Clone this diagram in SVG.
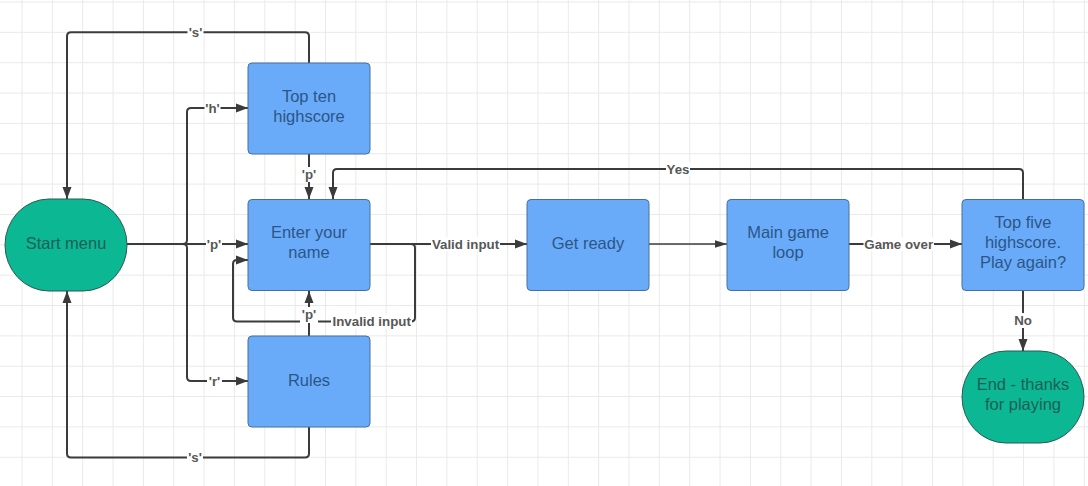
<svg xmlns="http://www.w3.org/2000/svg" width="1088" height="486" viewBox="0 0 1088 486">
<defs>
<pattern id="grid" x="21.5" y="1.5" width="30.35" height="30.35" patternUnits="userSpaceOnUse">
<path d="M0,0.5 H30.35 M0.5,0 V30.35" stroke="#e9e9e9" stroke-width="1" fill="none"/>
</pattern>
<marker id="arr" viewBox="0 0 12 10" refX="12" refY="5" markerWidth="12" markerHeight="10" markerUnits="userSpaceOnUse" orient="auto">
<path d="M0,0.5 L12,5 L0,9.5 z" fill="#3b3b3b"/>
</marker>
<marker id="arrS" viewBox="0 0 12 8" refX="12" refY="4" markerWidth="12" markerHeight="8" markerUnits="userSpaceOnUse" orient="auto">
<path d="M0,0.3 L12,4 L0,7.7 z" fill="#3b3b3b"/>
</marker>
</defs>
<style>
.blue{fill:#6aabf9;stroke:#44709f;stroke-width:1}
.teal{fill:#0cb794;stroke:#2a5a50;stroke-width:1}
.bt{font-family:"Liberation Sans",Arial,sans-serif;font-size:16.5px;fill:#2b5688;text-anchor:middle}
.tt{font-family:"Liberation Sans",Arial,sans-serif;font-size:16.5px;fill:#1d5f55;text-anchor:middle}
.c{fill:none;stroke:#3b3b3b;stroke-width:2;marker-end:url(#arr)}
.cs{fill:none;stroke:#3b3b3b;stroke-width:1.3;marker-end:url(#arrS)}
.lb{fill:#ffffff}
.lt{font-family:"Liberation Sans",Arial,sans-serif;font-size:13.3px;font-weight:bold;fill:#575757;text-anchor:middle}
</style>
<rect width="1088" height="486" fill="#ffffff"/>
<rect width="1088" height="486" fill="url(#grid)"/>

<g id="connectors">
<path class="c" d="M309,63 V36.3 Q309,32.3 305,32.3 H71 Q67,32.3 67,36.3 V199"/>
<path class="c" d="M309,427 V453.5 Q309,457.5 305,457.5 H71 Q67,457.5 67,453.5 V291"/>
<path class="c" d="M127,244 H183 Q187,244 187,240 V112 Q187,108 191,108 H248"/>
<path class="c" d="M127,244 H248"/>
<path class="c" d="M127,244 H183 Q187,244 187,248 V377 Q187,381 191,381 H248"/>
<path class="c" d="M309,154 V199"/>
<path class="c" d="M309,336 V291"/>
<path class="c" d="M370,244 H527"/>
<path class="c" d="M370,244 H411 Q415,244 415,248 V317.5 Q415,321.5 411,321.5 H237 Q233,321.5 233,317.5 V264 Q233,260 237,260 H248"/>
<path class="cs" d="M649,244 H727"/>
<path class="c" d="M849,244 H962"/>
<path class="c" d="M1023,199 V173 Q1023,169 1019,169 H337 Q333,169 333,173 V199"/>
<path class="c" d="M1023,291 V351"/>
</g>

<g id="labels">
<rect class="lb" x="187.5" y="25" width="16" height="14"/><text class="lt" x="195.5" y="36.8">'s'</text>
<rect class="lb" x="204.5" y="101" width="16" height="14"/><text class="lt" x="212.5" y="112.5">'h'</text>
<rect class="lb" x="206" y="237" width="16" height="14"/><text class="lt" x="214" y="248.5">'p'</text>
<rect class="lb" x="207" y="374.5" width="15" height="14"/><text class="lt" x="214.5" y="386">'r'</text>
<rect class="lb" x="187" y="450.5" width="16" height="14"/><text class="lt" x="195" y="462">'s'</text>
<rect class="lb" x="301" y="167" width="16" height="15"/><text class="lt" x="309" y="178.5">'p'</text>
<rect class="lb" x="300" y="307" width="18" height="16"/><text class="lt" x="309" y="318.5">'p'</text>
<rect class="lb" x="331" y="314.5" width="81" height="14"/><text class="lt" x="371.7" y="325.8">Invalid input</text>
<rect class="lb" x="431" y="237" width="69" height="14"/><text class="lt" x="465.5" y="248.5">Valid input</text>
<rect class="lb" x="666" y="162" width="24" height="14"/><text class="lt" x="678" y="173.5">Yes</text>
<rect class="lb" x="863.5" y="237" width="70.5" height="14"/><text class="lt" x="898.7" y="248.5">Game over</text>
<rect class="lb" x="1013" y="313" width="20" height="15"/><text class="lt" x="1023" y="325">No</text>
</g>

<g id="start-menu">
<rect class="teal" x="5" y="199" width="122" height="92" rx="44" ry="46"/>
<text class="tt" x="66" y="249">Start menu</text>
</g>
<g id="top-ten">
<rect class="blue" x="248" y="63" width="122" height="91" rx="4"/>
<text class="bt" x="309" y="101.7">Top ten</text>
<text class="bt" x="309" y="121.7">highscore</text>
</g>
<g id="enter-name">
<rect class="blue" x="248" y="199.5" width="122" height="91" rx="4"/>
<text class="bt" x="309" y="238.3">Enter your</text>
<text class="bt" x="309" y="258.3">name</text>
</g>
<g id="rules">
<rect class="blue" x="248" y="336" width="122" height="91" rx="4"/>
<text class="bt" x="309" y="385.7">Rules</text>
</g>
<g id="get-ready">
<rect class="blue" x="527" y="199.5" width="122" height="91" rx="4"/>
<text class="bt" x="588" y="249">Get ready</text>
</g>
<g id="main-loop">
<rect class="blue" x="727" y="199.5" width="122" height="91" rx="4"/>
<text class="bt" x="788" y="238.3">Main game</text>
<text class="bt" x="788" y="258.3">loop</text>
</g>
<g id="top-five">
<rect class="blue" x="962" y="199.5" width="122" height="91" rx="4"/>
<text class="bt" x="1023" y="227.7">Top five</text>
<text class="bt" x="1023" y="247.7">highscore.</text>
<text class="bt" x="1023" y="267.5">Play again?</text>
</g>
<g id="end">
<rect class="teal" x="962" y="351" width="122" height="92" rx="44" ry="46"/>
<text class="tt" x="1023" y="390">End - thanks</text>
<text class="tt" x="1023" y="410">for playing</text>
</g>
</svg>
